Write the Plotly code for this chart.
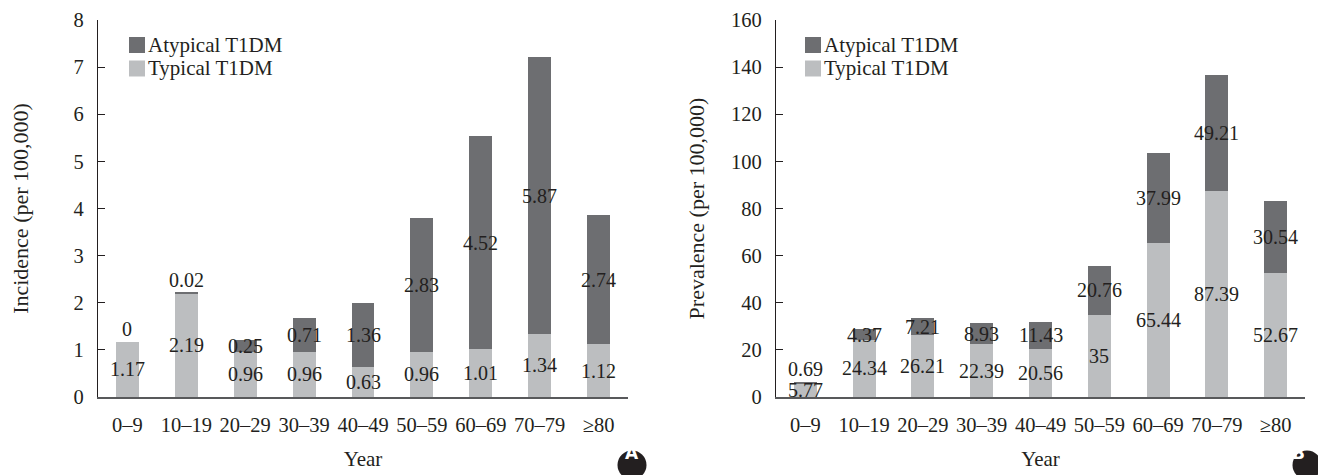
import plotly.graph_objects as go

# ---------------- data ----------------
age_groups = ["0–9", "10–19", "20–29", "30–39", "40–49", "50–59", "60–69", "70–79", "≥80"]

inc_typical = [1.17, 2.19, 0.96, 0.96, 0.63, 0.96, 1.01, 1.34, 1.12]
inc_atypical = [0, 0.02, 0.25, 0.71, 1.36, 2.83, 4.52, 5.87, 2.74]

prev_typical = [5.77, 24.34, 26.21, 22.39, 20.56, 35, 65.44, 87.39, 52.67]
prev_atypical = [0.69, 4.37, 7.21, 8.93, 11.43, 20.76, 37.99, 49.21, 30.54]

inc_ticks = [0, 1, 2, 3, 4, 5, 6, 7, 8]
prev_ticks = [0, 20, 40, 60, 80, 100, 120, 140, 160]

series_names = ["Atypical T1DM", "Typical T1DM"]

# ---------------- style ----------------
PAGE_W, PAGE_H = 1326, 475
BODY = 8                      # default page margin around the figure
W, H = PAGE_W - BODY, PAGE_H - BODY
DARK = "#6d6e71"
LIGHT = "#bcbec0"
TXT = "#231f20"
SERIF = "Liberation Serif, Times New Roman, serif"
FS_TICK = 20.5
FS_LABEL = 20
FS_LEGEND = 21
FS_YTITLE = 22
FS_XTITLE = 21


def px_x(p):
    """page pixel -> paper fraction"""
    return (p - BODY) / W


def px_y(p):
    return (H - (p - BODY)) / H


fig = go.Figure()

panels = [
    dict(x="x", y="y", typ=inc_typical, aty=inc_atypical, ymax=inc_ticks[-1], leg_x=129),
    dict(x="x2", y="y2", typ=prev_typical, aty=prev_atypical, ymax=prev_ticks[-1], leg_x=805),
]

annotations = []
shapes = []
for p in panels:
    fig.add_trace(go.Bar(x=age_groups, y=p["typ"], name=series_names[1], marker_color=LIGHT,
                         marker_line_width=0, xaxis=p["x"], yaxis=p["y"], showlegend=False))
    fig.add_trace(go.Bar(x=age_groups, y=p["aty"], name=series_names[0], marker_color=DARK,
                         marker_line_width=0, xaxis=p["x"], yaxis=p["y"], showlegend=False))
    for cat, t, a in zip(age_groups, p["typ"], p["aty"]):
        annotations.append(dict(x=cat, y=t / 2, xref=p["x"], yref=p["y"], text=format(t, "g"),
                                showarrow=False, font=dict(family=SERIF, size=FS_LABEL, color=TXT)))
        if a < 0.01 * p["ymax"]:
            annotations.append(dict(x=cat, y=t + a, xref=p["x"], yref=p["y"], text=format(a, "g"),
                                    showarrow=False, yanchor="bottom", yshift=0,
                                    font=dict(family=SERIF, size=FS_LABEL, color=TXT)))
        else:
            annotations.append(dict(x=cat, y=t + a / 2, xref=p["x"], yref=p["y"], text=format(a, "g"),
                                    showarrow=False, font=dict(family=SERIF, size=FS_LABEL, color=TXT)))
    # legend (key squares + text)
    for i, (name, col) in enumerate(zip(series_names, [DARK, LIGHT])):
        cy = 45 + 23.5 * i
        shapes.append(dict(type="rect", xref="paper", yref="paper",
                           xsizemode="pixel", ysizemode="pixel",
                           xanchor=px_x(p["leg_x"]), yanchor=px_y(cy),
                           x0=0, x1=16, y0=-8, y1=8,
                           fillcolor=col, line=dict(width=0)))
        annotations.append(dict(x=px_x(p["leg_x"] + 18), y=px_y(cy), xref="paper", yref="paper",
                                text=name, showarrow=False, xanchor="left", yanchor="middle", borderpad=0,
                                font=dict(family=SERIF, size=FS_LEGEND, color=TXT)))

# panel badges
for letter, cx, cy in [("A", 632, 465), ("B", 1307, 465)]:
    shapes.append(dict(type="circle", xref="paper", yref="paper",
                       xsizemode="pixel", ysizemode="pixel",
                       xanchor=px_x(cx), yanchor=px_y(cy),
                       x0=-14.5, x1=14.5, y0=-14.5, y1=14.5,
                       fillcolor="#231f20", line=dict(width=0)))
    annotations.append(dict(x=px_x(cx), y=px_y(cy), xref="paper", yref="paper", text="<b>%s</b>" % letter,
                            showarrow=False, font=dict(family="DejaVu Sans, Liberation Sans, sans-serif",
                                                       size=17, color="white")))

ydom = [px_y(397), px_y(20)]

xaxis_common = dict(type="category", range=[-0.5, 8.5], showline=True, linecolor="#58595b", linewidth=1.5,
                    ticks="", showgrid=False, zeroline=False, ticklabelstandoff=9, automargin=False,
                    tickfont=dict(family=SERIF, size=FS_TICK, color=TXT),
                    title=dict(text="Year", font=dict(family=SERIF, size=FS_XTITLE, color=TXT), standoff=16))
yaxis_common = dict(showline=True, linecolor=TXT, linewidth=1.3, ticks="inside", ticklen=7, tickcolor=TXT,
                    tickwidth=1.3, showgrid=False, zeroline=False, ticklabelstandoff=9, automargin=False,
                    tickfont=dict(family=SERIF, size=FS_TICK, color=TXT))

fig.update_layout(
    width=W, height=H,
    margin=dict(l=0, r=0, t=0, b=0, autoexpand=False),
    paper_bgcolor="white", plot_bgcolor="white",
    barmode="stack", bargap=0.61,
    font=dict(family=SERIF, size=FS_TICK, color=TXT),
    showlegend=False,
    xaxis=dict(domain=[px_x(98), px_x(628)], anchor="y", **xaxis_common),
    xaxis2=dict(domain=[px_x(776), px_x(1305)], anchor="y2", **xaxis_common),
    yaxis=dict(domain=ydom, anchor="x", range=[0, inc_ticks[-1]], tickvals=inc_ticks,
               title=dict(text="Incidence (per 100,000)", font=dict(family=SERIF, size=FS_YTITLE, color=TXT),
                          standoff=38),
               **yaxis_common),
    yaxis2=dict(domain=ydom, anchor="x2", range=[0, prev_ticks[-1]], tickvals=prev_ticks,
                title=dict(text="Prevalence (per 100,000)", font=dict(family=SERIF, size=FS_YTITLE, color=TXT),
                           standoff=20),
                **yaxis_common),
    annotations=annotations,
    shapes=shapes,
)

fig.write_html("out.html")
